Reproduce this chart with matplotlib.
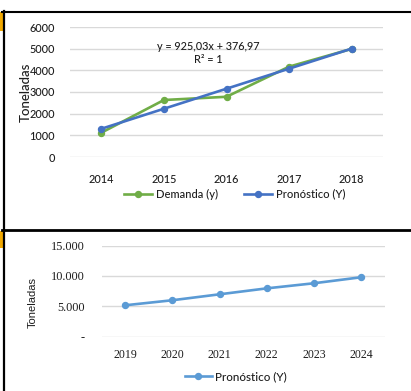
import matplotlib
matplotlib.use("Agg")
import matplotlib.pyplot as plt
from matplotlib.lines import Line2D
from matplotlib.patches import Rectangle

# ---- data ----
years_hist = ["2014", "2015", "2016", "2017", "2018"]
demanda = [1120, 2630, 2780, 4170, 4990]
pronostico_hist = [1302, 2227, 3152, 4077, 5002]
trend_label = "y = 925,03x + 376,97\nR\u00b2 = 1"

years_fc = ["2019", "2020", "2021", "2022", "2023", "2024"]
pronostico_fc = [5170, 6000, 6980, 7960, 8800, 9790]

top_yticks = [0, 1000, 2000, 3000, 4000, 5000, 6000]
bot_yticks = [0, 5000, 10000, 15000]
bot_yticklabels = ["-", "5.000", "10.000", "15.000"]

W, H = 411, 391
fig = plt.figure(figsize=(W / 100, H / 100), dpi=100)
fig.patch.set_facecolor("white")

def fx(px):
    return px / W

def fy(py):
    return 1 - py / H

def axes_px(x0, y_top, x1, y_bot):
    return fig.add_axes([fx(x0), fy(y_bot), fx(x1) - fx(x0), (y_bot - y_top) / H])

GRID = "#D9D9D9"
GREEN = "#70AD47"
BLUE = "#4472C4"
LIGHTBLUE = "#5B9BD5"
TXT = "#1E1E1E"
SANS = ["Lato", "DejaVu Sans"]
SERIF = ["Liberation Serif", "DejaVu Serif"]

# ---- top chart: historical demand and fitted forecast ----
ax1 = axes_px(70, 27, 383, 157)
x1 = list(range(len(years_hist)))
ax1.set_xlim(-0.5, len(years_hist) - 0.5)
ax1.set_ylim(0, 6000)
ax1.set_yticks(top_yticks)
ax1.set_yticklabels([str(v) for v in top_yticks], family=SANS, fontsize=7.8,
                    color=TXT, weight="medium")
ax1.set_xticks(x1)
ax1.set_xticklabels(years_hist, family=SANS, fontsize=7.8, color=TXT, weight="medium")
ax1.tick_params(length=0)
ax1.tick_params(axis="y", pad=11)
ax1.tick_params(axis="x", pad=12)
for s in ax1.spines.values():
    s.set_visible(False)
ax1.grid(axis="y", color=GRID, lw=1.0)
ax1.set_axisbelow(True)
l_dem, = ax1.plot(x1, demanda, color=GREEN, lw=1.9, marker="o", ms=4.3,
                  label="Demanda (y)", clip_on=False, zorder=3)
l_pro, = ax1.plot(x1, pronostico_hist, color=BLUE, lw=1.9, marker="o", ms=4.3,
                  label="Pron\u00f3stico (Y)", clip_on=False, zorder=4)
ax1.text(fx(208), fy(53), trend_label, transform=fig.transFigure, ha="center", va="center",
         family=SANS, fontsize=7.8, color=TXT, linespacing=1.3, weight="medium")
fig.text(fx(25.5), fy(92), "Toneladas", rotation=90, ha="center", va="center",
         family=SANS, fontsize=9.5, color=TXT, weight="medium")
leg1 = fig.legend(handles=[l_dem, l_pro], loc="center", bbox_to_anchor=(fx(235), fy(194)),
                  ncol=2, frameon=False, handlelength=2.5, handletextpad=0.4,
                  columnspacing=2.3, prop={"family": SANS, "size": 8.0, "weight": "medium"})
for t in leg1.get_texts():
    t.set_color(TXT)

# ---- bottom chart: forecast ----
ax2 = axes_px(101.7, 245.7, 384.6, 336.6)
x2 = list(range(len(years_fc)))
ax2.set_xlim(-0.5, len(years_fc) - 0.5)
ax2.set_ylim(0, 15000)
ax2.set_yticks(bot_yticks)
ax2.set_yticklabels(bot_yticklabels, family=SERIF, fontsize=8.8, color=TXT)
ax2.set_xticks(x2)
ax2.set_xticklabels(years_fc, family=SERIF, fontsize=8.6, color=TXT)
ax2.tick_params(length=0)
ax2.tick_params(axis="y", pad=12)
ax2.tick_params(axis="x", pad=9)
for s in ax2.spines.values():
    s.set_visible(False)
ax2.grid(axis="y", color=GRID, lw=1.0)
ax2.set_axisbelow(True)
l_fc, = ax2.plot(x2, pronostico_fc, color=LIGHTBLUE, lw=1.9, marker="o", ms=4.3,
                 label="Pron\u00f3stico (Y)", clip_on=False, zorder=3)
fig.text(fx(32.5), fy(302), "Toneladas", rotation=90, ha="center", va="center",
         family=["Liberation Sans", "DejaVu Sans"], fontsize=8.0, color=TXT)
leg2 = fig.legend(handles=[l_fc], loc="center", bbox_to_anchor=(fx(236), fy(377)),
                  frameon=False, handlelength=2.3, handletextpad=0.3,
                  prop={"family": SANS, "size": 8.4, "weight": "medium"})
for t in leg2.get_texts():
    t.set_color(TXT)

# ---- frame lines and side tabs ----
def hline(y, x0, x1, lw):
    fig.add_artist(Line2D([fx(x0), fx(x1)], [fy(y), fy(y)], color="black", lw=lw,
                          transform=fig.transFigure))

hline(11.5, 2, 411, 1.5)
hline(229.5, 2, 411, 2.0)
fig.add_artist(Line2D([fx(3.5), fx(3.5)], [fy(11), fy(391)], color="black", lw=1.6,
                      transform=fig.transFigure))
for y0, y1 in [(12, 31), (231, 248)]:
    fig.add_artist(Rectangle((fx(0), fy(y1)), fx(2.5), (y1 - y0) / H, color="#F2A900",
                             transform=fig.transFigure, lw=0))

fig.savefig("out.png", dpi=100, facecolor="white")
